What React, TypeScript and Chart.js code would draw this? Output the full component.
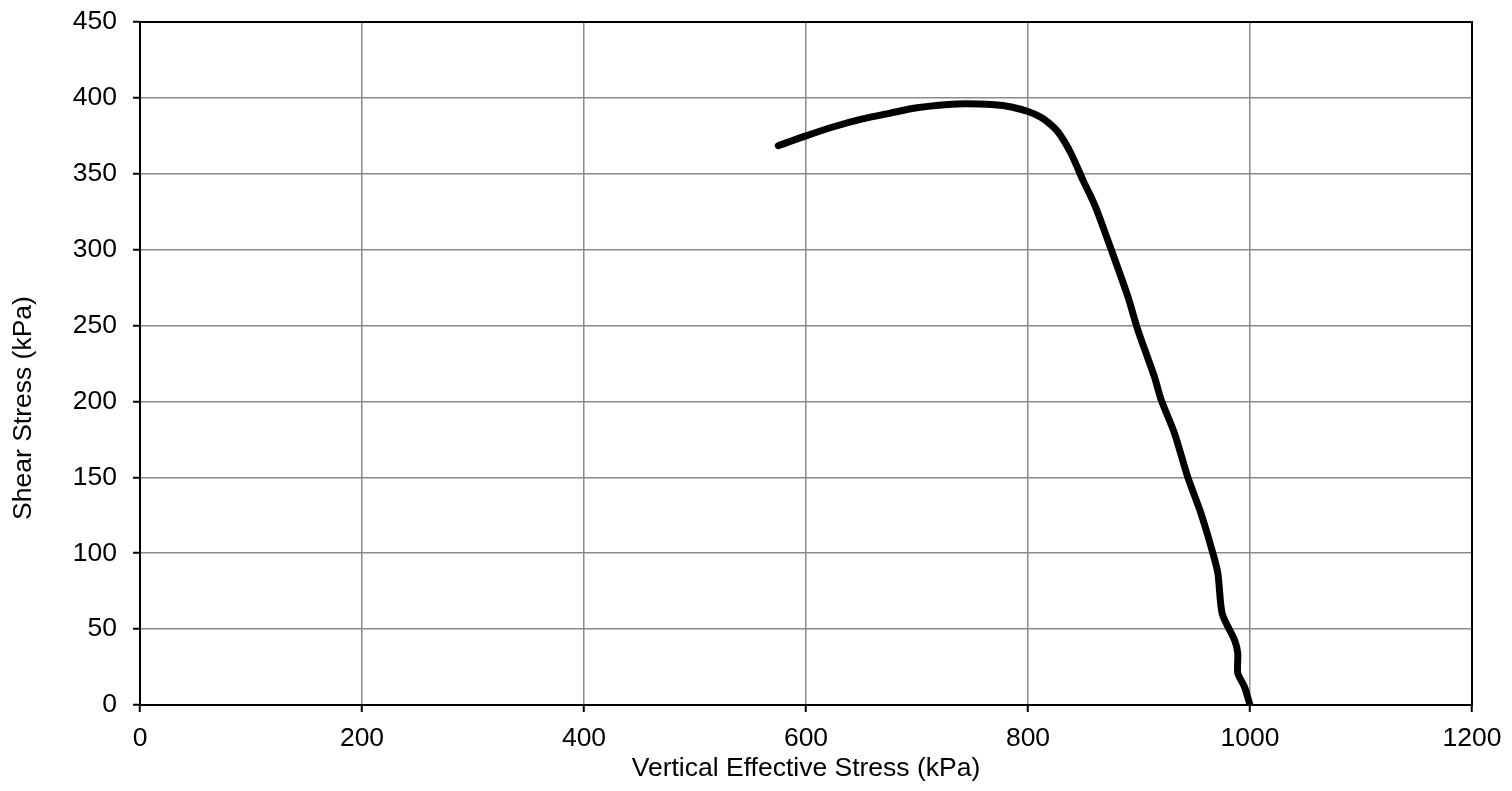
import React, { useEffect, useRef } from "react";
import { Chart, registerables } from "chart.js";

Chart.register(...registerables);

const stressX = [1000, 995, 989, 989, 986, 975, 971, 965, 955, 944, 932, 920, 914, 899, 890, 875, 862, 856, 850, 844, 839, 833, 826, 818, 811, 800, 785, 770, 736, 700, 676, 650, 625, 600, 575];
const shearY = [0, 12, 21, 34, 43, 60, 87, 104, 128, 150, 179, 201, 216, 247, 269, 300, 326, 336, 345, 355, 363, 371, 378.5, 384, 387.5, 391, 394, 395.5, 396, 393.5, 390, 386, 381, 375, 368.5];

const xTitle = "Vertical Effective Stress (kPa)";
const yTitle = "Shear Stress (kPa)";
const FONT = "'Liberation Sans', Arial, sans-serif";
const FS = 26.5;

export default function App() {
  const ref = useRef<HTMLCanvasElement | null>(null);
  useEffect(() => {
    const prevMargin = document.body.style.margin;
    document.body.style.margin = "0";
    const canvas = ref.current!;
    const framePlugin = {
      id: "frame",
      afterDraw(chart: any) {
        const { ctx, chartArea } = chart;
        ctx.save();
        ctx.strokeStyle = "#000";
        ctx.lineWidth = 2;
        ctx.strokeRect(chartArea.left, chartArea.top, chartArea.right - chartArea.left, chartArea.bottom - chartArea.top);
        ctx.translate(24, 408);
        ctx.rotate(-Math.PI / 2);
        ctx.fillStyle = "#000";
        ctx.font = `${FS}px ${FONT}`;
        ctx.textAlign = "center";
        ctx.textBaseline = "middle";
        ctx.fillText(yTitle, 0, 0);
        ctx.restore();
      },
    };
    const chart = new Chart(canvas, {
      type: "line",
      data: {
        datasets: [
          {
            data: stressX.map((x, i) => ({ x, y: shearY[i] })),
            borderColor: "#000",
            borderWidth: 7,
            pointRadius: 0,
            tension: 0.25,
            fill: false,
            borderCapStyle: "round",
            borderJoinStyle: "round",
          },
        ],
      },
      options: {
        responsive: false,
        animation: false,
        layout: { padding: { left: 0, right: 40, top: 22, bottom: 0 } },
        plugins: { legend: { display: false }, tooltip: { enabled: false } },
        scales: {
          x: {
            type: "linear",
            min: 0,
            max: 1200,
            ticks: { stepSize: 200, color: "#000", font: { family: FONT, size: FS }, padding: 11, maxRotation: 0, callback: (v: any) => String(v) },
            grid: { color: "#8a8a8a", lineWidth: 1.5, tickColor: "#000", tickLength: 7, tickWidth: 2 },
            border: { color: "#000", width: 2 },
            title: { display: true, text: xTitle, color: "#000", font: { family: FONT, size: FS }, padding: { top: 0, bottom: 6 } },
            afterFit: (s: any) => { s.height = 86; s.paddingLeft = 0; s.paddingRight = 0; },
          },
          y: {
            type: "linear",
            min: 0,
            max: 450,
            ticks: { stepSize: 50, color: "#000", font: { family: FONT, size: FS }, padding: 16, callback: (v: any) => String(v) },
            grid: { color: "#8a8a8a", lineWidth: 1.5, tickColor: "#000", tickLength: 7, tickWidth: 2 },
            border: { color: "#000", width: 2 },
            title: { display: false },
            afterFit: (s: any) => { s.width = 140; s.paddingTop = 0; s.paddingBottom = 0; },
          },
        },
      },
      plugins: [framePlugin],
    } as any);
    return () => {
      chart.destroy();
      document.body.style.margin = prevMargin;
    };
  }, []);
  return (
    <div style={{ position: "absolute", left: 0, top: 0, width: 1512, height: 791, background: "#fff" }}>
      <canvas ref={ref} width={1512} height={791} style={{ display: "block" }} />
    </div>
  );
}
